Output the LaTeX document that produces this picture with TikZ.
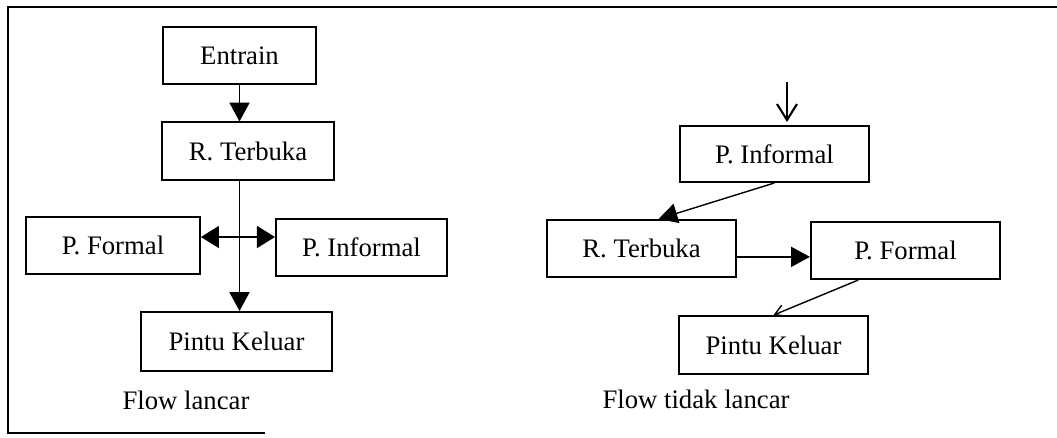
\documentclass[tikz,border=0pt]{standalone}
\usepackage{fontspec}
\setmainfont{Liberation Serif}
\usetikzlibrary{arrows.meta}
\begin{document}
\begin{tikzpicture}
  [x=0.025cm,y=-0.025cm,
   every node/.style={font=\fontsize{19}{23}\selectfont},
   box/.style={draw,line width=1.3pt,minimum width=4.73cm,minimum height=1.43cm,inner sep=0pt},
   tri/.style={-{Triangle[length=0.47cm,width=0.5cm]},line width=1pt},
   both/.style={{Triangle[length=0.45cm,width=0.55cm]}-{Triangle[length=0.45cm,width=0.55cm]},line width=1pt},
   barb/.style={-{Straight Barb[length=0.4cm,width=0.5cm]},line width=1.5pt}]
    \useasboundingbox (0,0) rectangle (1057,437);
    \draw[line width=1.3pt] (1057,7) -- (8,7) -- (8,433) -- (265,433);

    \node (ent) [box,minimum width=3.83cm] at (239.5,55.5)  {Entrain};
    \node (rt1) [box,minimum width=4.3cm]  at (248,151)     {R. Terbuka};
    \node (pf1) [box,minimum width=4.35cm] at (113,245.5)   {P. Formal};
    \node (pi1) [box,minimum width=4.28cm] at (361.5,247.5) {P. Informal};
    \node (pk1) [box,minimum width=4.78cm,minimum height=1.48cm] at (236.5,341.5) {Pintu Keluar};
    \coordinate (cross) at (239.5,237);

    \node (pi2) [box,minimum height=1.4cm] at (774.5,154) {P. Informal};
    \node (rt2) [box] at (641.5,248.5) {R. Terbuka};
    \node (pf2) [box] at (905.5,250.5) {P. Formal};
    \node (pk2) [box,minimum height=1.45cm] at (773.5,345) {Pintu Keluar};
    \coordinate (in)   at (787,82);
    \coordinate (inend) at (787,122);

    \draw[tri] (ent.south) -- (ent.south |- rt1.north);
    \draw[tri] (rt1.south -| cross) -- (pk1.north -| cross);
    \draw[both] (pf1.east |- cross) -- (pi1.west |- cross);

    \draw[barb] (in) -- (inend);
    \draw[tri] (pi2.south) -- (rt2.60);
    \draw[tri] (rt2.-5) -- (rt2.-5 -| pf2.west);
    \draw[-{Straight Barb[length=0.25cm,width=0.3cm]},line width=1pt] (pf2.-148) -- (pk2.north);

    \node (cap1) at (186,400) {Flow lancar};
    \node (cap2) at (696,399) {Flow tidak lancar};
  \end{tikzpicture}
\end{document}
